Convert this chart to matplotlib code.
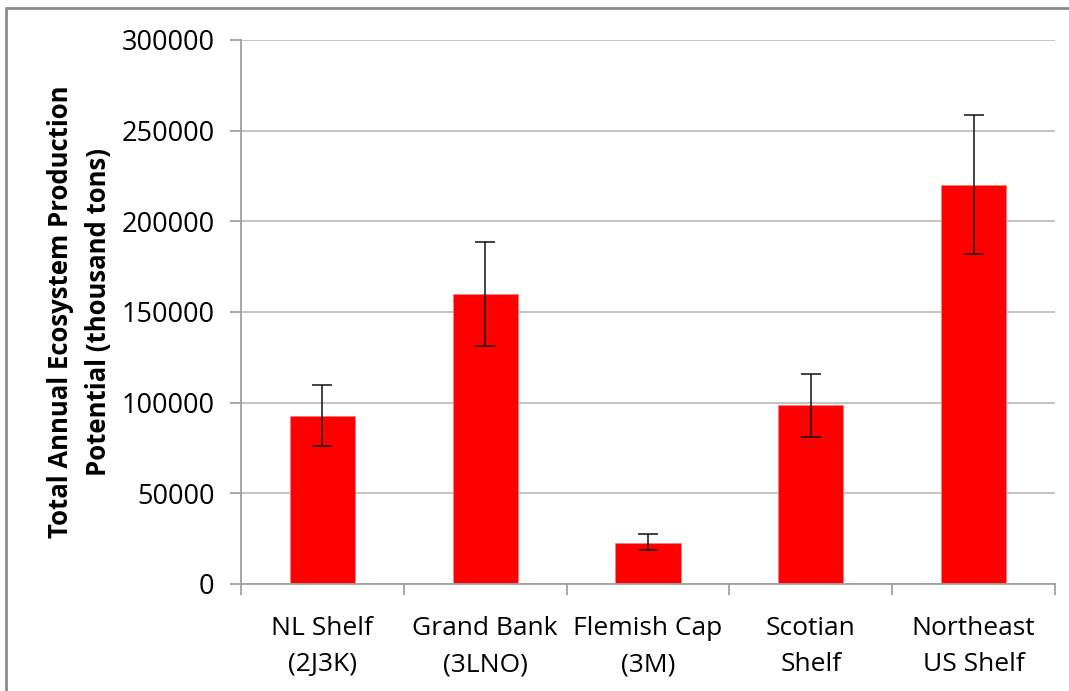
import matplotlib.pyplot as plt
from matplotlib.patches import Rectangle
import numpy as np

# data
categories = ["NL Shelf\n(2J3K)", "Grand Bank\n(3LNO)", "Flemish Cap\n(3M)",
              "Scotian\nShelf", "Northeast\nUS Shelf"]
production = [92500, 160000, 22500, 98500, 220000]
err_low = [76000, 131500, 19000, 81000, 182000]
err_high = [110000, 188500, 27500, 116000, 258500]

plt.rcParams['font.family'] = ['Open Sans', 'DejaVu Sans']

fig = plt.figure(figsize=(10.69, 6.91), dpi=100)
ax = fig.add_axes([241 / 1069, 1 - 584 / 691, (1055 - 241) / 1069, (584 - 40) / 691])

x = np.arange(len(categories))
yerr = [np.array(production) - np.array(err_low), np.array(err_high) - np.array(production)]
ax.bar(x, production, width=0.4, color='#FF0000', edgecolor='#FF8080', linewidth=0.6, zorder=2)
ax.errorbar(x, production, yerr=yerr, fmt='none', ecolor='#111111', elinewidth=1.1,
            capsize=7, capthick=1.1, zorder=3)

ax.set_xlim(-0.5, len(categories) - 0.5)
ax.set_ylim(0, 300000)
ax.set_yticks(np.arange(0, 300001, 50000))
ax.set_yticklabels([str(v) for v in range(0, 300001, 50000)], fontsize=19.5)
ax.yaxis.grid(True, color='#BEBEBE', linewidth=1.3, zorder=0)

ax.set_xticks(x)
ax.set_xticklabels(categories, fontsize=19, linespacing=1.6)
ax.set_xticks(np.arange(-0.5, len(categories)), minor=True)
ax.tick_params(axis='x', which='major', length=0, pad=23)
ax.tick_params(axis='x', which='minor', length=8, color='#A0A0A0', width=1.3)
ax.tick_params(axis='y', length=8, color='#A0A0A0', width=1.3, pad=11)

for side in ['top', 'right']:
    ax.spines[side].set_visible(False)
ax.spines['left'].set_color('#A0A0A0')
ax.spines['bottom'].set_color('#A0A0A0')
ax.spines['left'].set_linewidth(1.3)
ax.spines['bottom'].set_linewidth(1.3)

ax.set_ylabel("Total Annual Ecosystem Production\nPotential (thousand tons)",
              fontsize=18.5, fontweight='bold', labelpad=7, linespacing=1.5)

# outer chart border
fig.patches.append(Rectangle((6 / 1069, -0.05), 1.1, 1 - 8 / 691 + 0.05,
                             transform=fig.transFigure, fill=False,
                             edgecolor='#8C8C8C', linewidth=2))

fig.savefig("out.png", dpi=100)
